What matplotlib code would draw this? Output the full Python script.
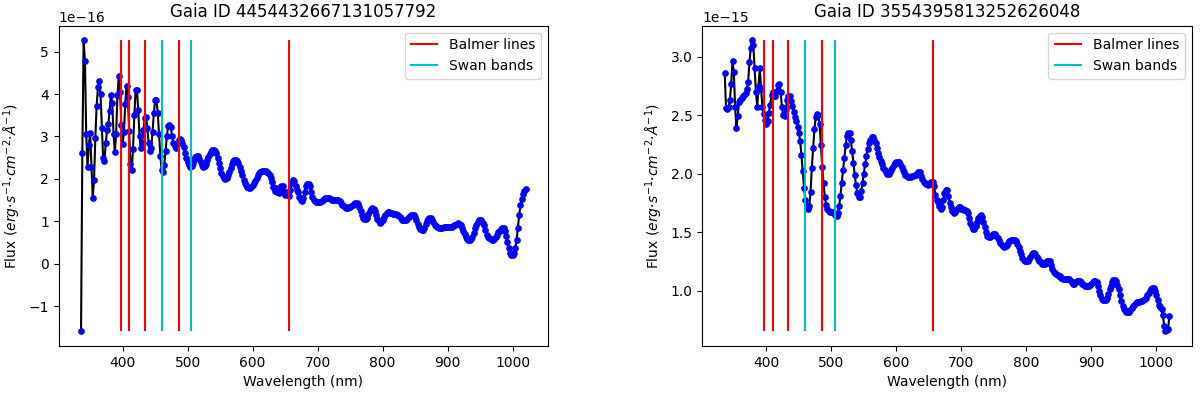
import numpy as np
import matplotlib
matplotlib.use("Agg")
import matplotlib.pyplot as plt

# wavelength grid of the sampled spectra (nm)
wavelength = np.arange(336, 1021, 2)

# star 1, flux in units of 1e-16 erg/s/cm^2/A
flux_1 = [
    -1.60, 2.60, 5.27, 4.77, 3.05, 2.29, 2.80, 3.07, 2.29, 1.55,   # 336
    1.97, 2.96, 3.72, 4.16, 4.30, 3.99, 3.21, 2.49, 2.42, 2.84,    # 356
    3.15, 3.29, 3.61, 3.98, 3.78, 3.05, 2.63, 3.06, 3.97, 4.43,    # 376
    4.05, 3.27, 2.83, 3.10, 3.77, 4.20, 3.92, 3.13, 2.36, 2.20,    # 396
    2.71, 3.50, 4.10, 4.10, 3.62, 3.02, 2.72, 2.85, 3.15, 3.43,    # 416
    3.45, 3.20, 2.85, 2.65, 2.73, 3.10, 3.55, 3.85, 3.85, 3.56,    # 436
    3.05, 2.55, 2.20, 2.15, 2.33, 2.65, 3.01, 3.25, 3.28, 3.22,    # 456
    3.02, 2.85, 2.78, 2.72, 2.80, 2.92, 2.95, 2.92, 2.85, 2.75,    # 476
    2.62, 2.50, 2.40, 2.32, 2.29, 2.30, 2.38, 2.46, 2.52, 2.55,    # 496
    2.54, 2.48, 2.40, 2.32, 2.28, 2.30, 2.36, 2.44, 2.52, 2.58,    # 516
    2.64, 2.67, 2.68, 2.66, 2.60, 2.50, 2.38, 2.26, 2.14, 2.06,    # 536
    2.02, 2.00, 2.02, 2.08, 2.16, 2.26, 2.35, 2.41, 2.44, 2.45,    # 556
    2.43, 2.37, 2.28, 2.18, 2.08, 1.98, 1.90, 1.85, 1.81, 1.79,    # 576
    1.79, 1.81, 1.85, 1.90, 1.96, 2.02, 2.08, 2.13, 2.16, 2.18,    # 596
    2.19, 2.19, 2.18, 2.16, 2.13, 2.08, 2.02, 1.92, 1.80, 1.72,    # 616
    1.78, 1.70, 1.66, 1.76, 1.84, 1.82, 1.68, 1.62, 1.70, 1.64,    # 636
    1.60, 1.74, 1.90, 1.97, 1.94, 1.82, 1.74, 1.68, 1.58, 1.50,    # 656
    1.48, 1.56, 1.70, 1.82, 1.88, 1.89, 1.82, 1.70, 1.58, 1.51,    # 676
    1.47, 1.46, 1.45, 1.45, 1.46, 1.48, 1.50, 1.52, 1.54, 1.56,    # 696
    1.56, 1.55, 1.52, 1.50, 1.49, 1.49, 1.50, 1.50, 1.50, 1.48,    # 716
    1.44, 1.39, 1.35, 1.33, 1.32, 1.32, 1.33, 1.33, 1.35, 1.38,    # 736
    1.41, 1.42, 1.42, 1.40, 1.34, 1.24, 1.14, 1.08, 1.05, 1.05,    # 756
    1.08, 1.16, 1.24, 1.30, 1.32, 1.30, 1.24, 1.15, 1.06, 1.00,    # 776
    0.97, 0.98, 1.03, 1.10, 1.15, 1.19, 1.21, 1.21, 1.20, 1.19,    # 796
    1.18, 1.17, 1.16, 1.15, 1.14, 1.11, 1.07, 1.04, 1.02, 1.02,    # 816
    1.03, 1.06, 1.10, 1.13, 1.15, 1.15, 1.14, 1.10, 1.02, 0.93,    # 836
    0.86, 0.81, 0.79, 0.80, 0.85, 0.93, 1.00, 1.05, 1.07, 1.07,    # 856
    1.04, 0.98, 0.92, 0.88, 0.86, 0.85, 0.85, 0.85, 0.85, 0.86,    # 876
    0.86, 0.86, 0.87, 0.87, 0.87, 0.87, 0.88, 0.90, 0.92, 0.94,    # 896
    0.95, 0.94, 0.91, 0.85, 0.77, 0.69, 0.62, 0.58, 0.56, 0.56,    # 916
    0.58, 0.64, 0.73, 0.83, 0.92, 0.98, 1.02, 1.03, 1.02, 0.97,    # 936
    0.90, 0.80, 0.68, 0.63, 0.60, 0.57, 0.56, 0.56, 0.58, 0.62,    # 956
    0.68, 0.74, 0.78, 0.81, 0.83, 0.83, 0.78, 0.66, 0.50, 0.36,    # 976
    0.26, 0.21, 0.20, 0.26, 0.38, 0.55, 0.85, 1.15, 1.38, 1.52,    # 996
    1.64, 1.71, 1.75,                                              # 1016
]

# star 2, flux in units of 1e-15 erg/s/cm^2/A
flux_2 = [
    2.86, 2.56, 2.55, 2.57, 2.63, 2.77, 2.96, 2.87, 2.57, 2.39,    # 336
    2.49, 2.61, 2.63, 2.65, 2.66, 2.67, 2.69, 2.72, 2.78, 2.95,    # 356
    3.07, 3.14, 3.10, 2.90, 2.70, 2.57, 2.75, 2.90, 2.72, 2.57,    # 376
    2.51, 2.46, 2.42, 2.45, 2.52, 2.59, 2.67, 2.70, 2.66, 2.66,    # 396
    2.71, 2.76, 2.77, 2.70, 2.57, 2.50, 2.49, 2.55, 2.63, 2.66,    # 416
    2.66, 2.62, 2.58, 2.53, 2.48, 2.45, 2.40, 2.35, 2.28, 2.16,    # 436
    2.02, 1.88, 1.77, 1.72, 1.70, 1.72, 1.84, 2.05, 2.22, 2.38,    # 456
    2.48, 2.51, 2.50, 2.42, 2.24, 2.06, 1.92, 1.80, 1.73, 1.70,    # 476
    1.68, 1.67, 1.67, 1.67, 1.66, 1.65, 1.64, 1.66, 1.72, 1.81,    # 496
    1.92, 2.03, 2.13, 2.24, 2.32, 2.35, 2.35, 2.29, 2.19, 2.09,    # 516
    1.99, 1.90, 1.83, 1.80, 1.80, 1.85, 1.92, 2.00, 2.08, 2.15,    # 536
    2.21, 2.26, 2.29, 2.31, 2.31, 2.29, 2.26, 2.22, 2.18, 2.14,    # 556
    2.11, 2.08, 2.05, 2.03, 2.01, 2.00, 2.00, 2.01, 2.03, 2.05,    # 576
    2.07, 2.09, 2.10, 2.10, 2.10, 2.08, 2.06, 2.03, 2.01, 1.99,    # 596
    1.98, 1.97, 1.97, 1.97, 1.98, 1.98, 1.99, 1.99, 2.00, 2.01,    # 616
    2.01, 1.98, 1.95, 1.93, 1.92, 1.91, 1.90, 1.91, 1.92, 1.93,    # 636
    1.93, 1.89, 1.82, 1.77, 1.76, 1.72, 1.70, 1.71, 1.77, 1.83,    # 656
    1.86, 1.86, 1.81, 1.75, 1.71, 1.68, 1.66, 1.67, 1.69, 1.70,    # 676
    1.71, 1.71, 1.70, 1.70, 1.69, 1.69, 1.68, 1.66, 1.62, 1.58,    # 696
    1.55, 1.53, 1.53, 1.55, 1.59, 1.62, 1.64, 1.65, 1.63, 1.59,    # 716
    1.54, 1.50, 1.47, 1.46, 1.46, 1.47, 1.48, 1.48, 1.48, 1.47,    # 736
    1.45, 1.43, 1.41, 1.39, 1.38, 1.37, 1.38, 1.39, 1.41, 1.42,    # 756
    1.43, 1.43, 1.43, 1.43, 1.42, 1.40, 1.37, 1.34, 1.31, 1.28,    # 776
    1.26, 1.25, 1.25, 1.25, 1.27, 1.29, 1.31, 1.32, 1.32, 1.31,    # 796
    1.29, 1.27, 1.25, 1.24, 1.23, 1.23, 1.23, 1.24, 1.25, 1.25,    # 816
    1.25, 1.22, 1.18, 1.16, 1.15, 1.14, 1.13, 1.12, 1.12, 1.11,    # 836
    1.10, 1.10, 1.10, 1.10, 1.10, 1.10, 1.08, 1.07, 1.06, 1.06,    # 856
    1.07, 1.08, 1.08, 1.08, 1.07, 1.06, 1.05, 1.04, 1.04, 1.04,    # 876
    1.04, 1.05, 1.06, 1.07, 1.08, 1.08, 1.07, 1.04, 1.00, 0.96,    # 896
    0.93, 0.92, 0.92, 0.92, 0.94, 0.97, 1.01, 1.04, 1.07, 1.09,    # 916
    1.09, 1.08, 1.05, 1.01, 0.96, 0.91, 0.87, 0.84, 0.83, 0.82,    # 936
    0.82, 0.82, 0.83, 0.85, 0.87, 0.88, 0.89, 0.90, 0.90, 0.90,    # 956
    0.91, 0.91, 0.92, 0.93, 0.94, 0.96, 0.98, 1.00, 1.01, 1.02,    # 976
    1.02, 1.00, 0.96, 0.92, 0.88, 0.86, 0.84, 0.79, 0.70, 0.65,    # 996
    0.66, 0.67, 0.78,                                              # 1016
]

stars = [
    ("Gaia ID 4454432667131057792", flux_1, 1e-16),
    ("Gaia ID 3554395813252626048", flux_2, 1e-15),
]

balmer_lines = [397, 410, 434, 486, 656]
swan_bands = [460, 505]

fig, axes = plt.subplots(1, 2, figsize=(12, 3.95), dpi=100)
fig.subplots_adjust(left=0.049, right=0.993, top=0.935, bottom=0.124, wspace=0.316)

for ax, (name, flux, scale) in zip(axes, stars):
    f = np.array(flux) * scale
    ax.plot(wavelength, f, 'k-')
    ax.plot(wavelength, f, 'bo', markersize=3.8)
    ax.vlines(balmer_lines, f.min(), f.max(), colors='r', label='Balmer lines')
    ax.vlines(swan_bands, f.min(), f.max(), colors='c', label='Swan bands')
    ax.set_title(name)
    ax.set_xlabel("Wavelength (nm)")
    ax.set_ylabel(r'Flux ($erg{\cdot}s^{-1}{\cdot}cm^{-2}{\cdot}\AA^{-1}$)')
    ax.legend(loc='upper right')

fig.savefig("out.png")
